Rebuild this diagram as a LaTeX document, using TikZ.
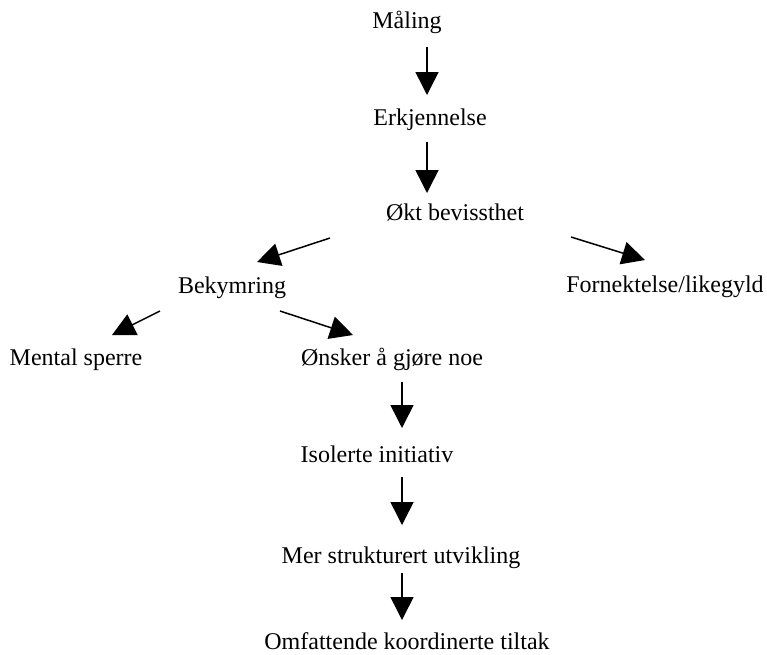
\documentclass[tikz,border=0pt]{standalone}
\usepackage{fontspec}
\setmainfont{Liberation Serif}
\usetikzlibrary{arrows.meta,calc}
\tikzset{
  label/.style={anchor=base,inner sep=0pt,font=\fontsize{24}{28}\selectfont},
  arr/.style={line width=1.5pt,-{Triangle[length=23pt,width=23pt]}}
}
\begin{document}
\begin{tikzpicture}[x=1pt,y=-1pt]
\useasboundingbox (0,0) rectangle (767,654);
% labels, placed by their baselines
\node[label] (maling) at (407,28)  {Måling};
\node[label] (erk)    at (430,125) {Erkjennelse};
\node[label] (okt)    at (455,220) {Økt bevissthet};
\node[label] (bek)    at (232,293) {Bekymring};
\node[label] (forn)   at (665,292) {Fornektelse/likegyld};
\node[label] (ment)   at (76,365)  {Mental sperre};
\node[label] (onsk)   at (392,365) {Ønsker å gjøre noe};
\node[label] (iso)    at (377,462) {Isolerte initiativ};
\node[label] (mer)    at (401,563) {Mer strukturert utvikling};
\node[label] (omf)    at (407,649) {Omfattende koordinerte tiltak};
% connectors
\draw[arr] ($(maling.base)+(20,19)$) -- ($(erk.base)+(-3,-30)$);
\draw[arr] ($(erk.base)+(-3,17)$)    -- ($(okt.base)+(-28,-27)$);
\draw[arr] ($(okt.base)+(-125,18)$)  -- ($(bek.base)+(25,-31)$);
\draw[arr] ($(okt.base)+(116,17)$)   -- ($(forn.base)+(-20,-32)$);
\draw[arr] ($(bek.base)+(-72,18)$)   -- ($(ment.base)+(36,-30)$);
\draw[arr] ($(bek.base)+(48,18)$)    -- ($(onsk.base)+(-39,-30)$);
\draw[arr] ($(onsk.base)+(10,17)$)   -- ($(iso.base)+(25,-34)$);
\draw[arr] ($(iso.base)+(25,15)$)    -- ($(mer.base)+(1,-38)$);
\draw[arr] ($(mer.base)+(1,10)$)     -- ($(omf.base)+(-5,-29)$);
\end{tikzpicture}
\end{document}
